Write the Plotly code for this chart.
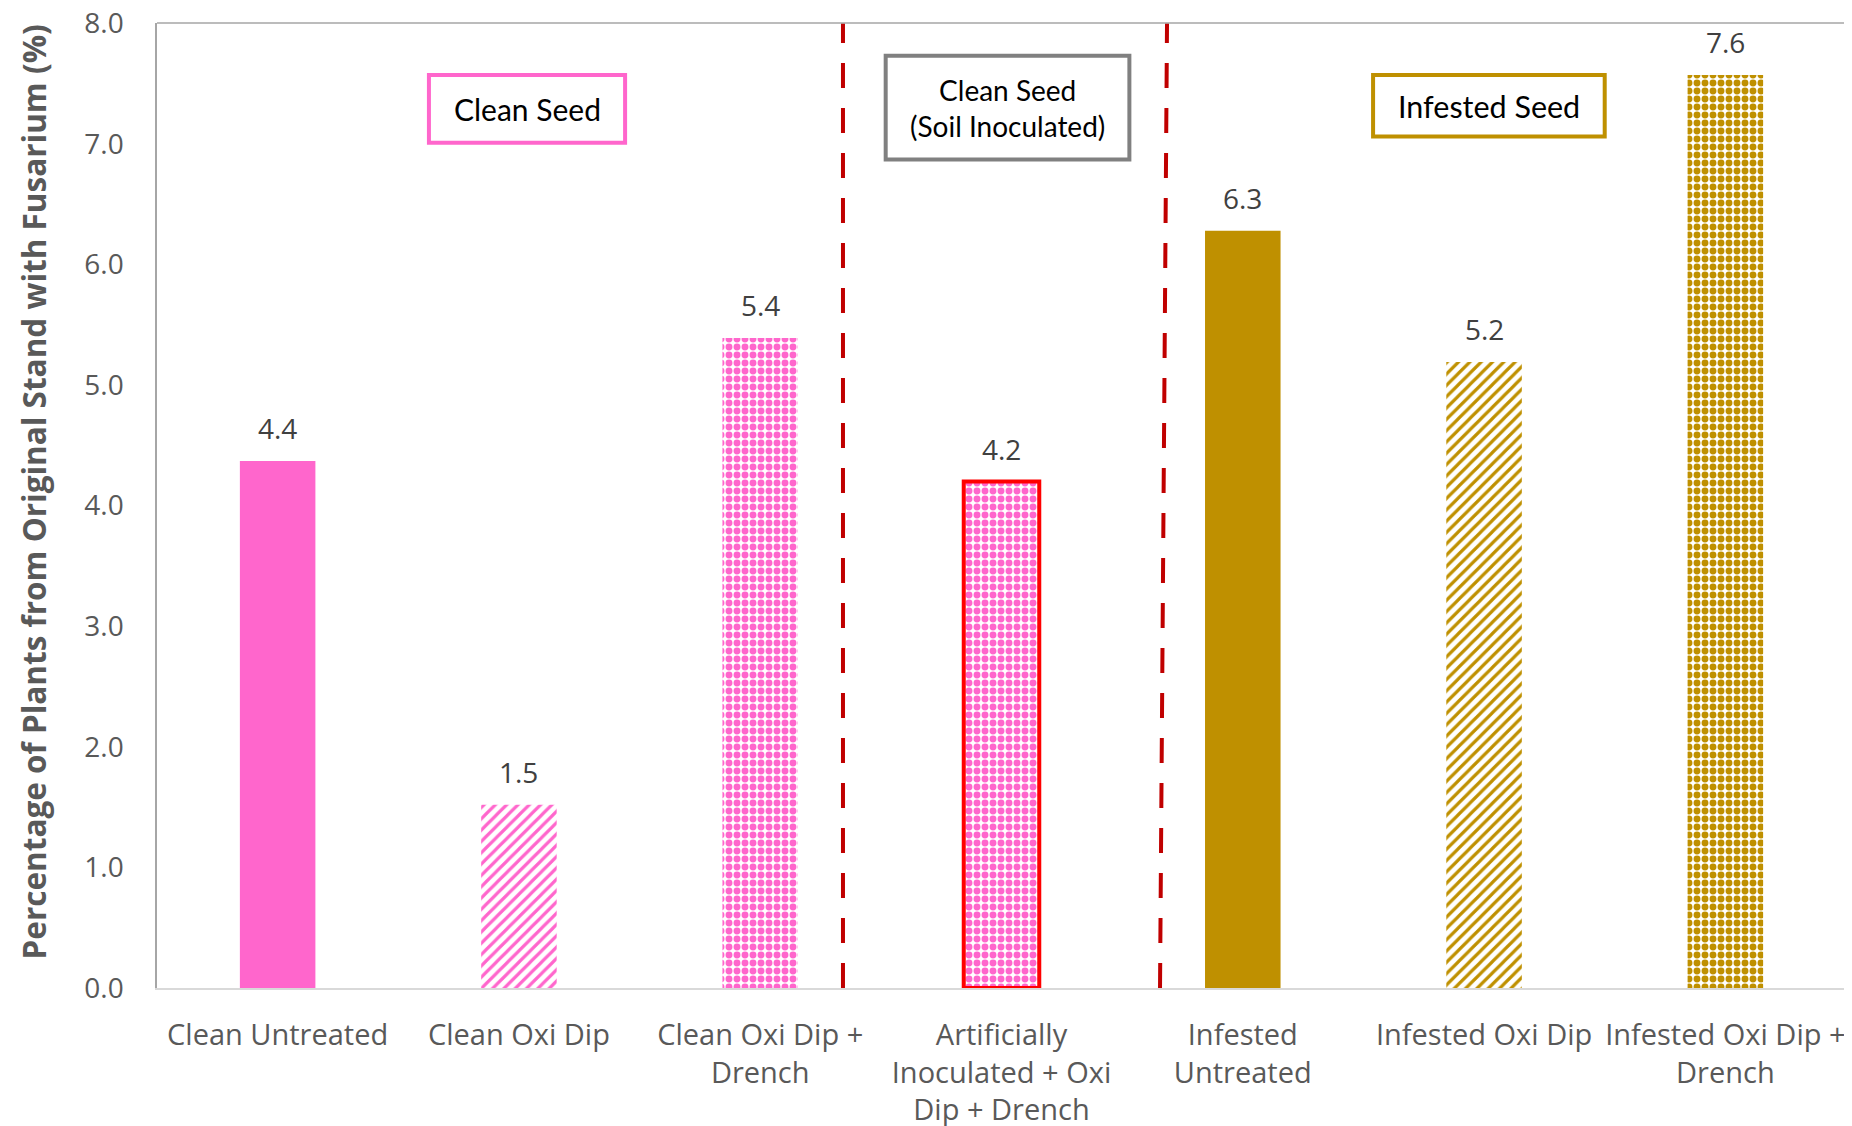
import plotly.graph_objects as go

# ---------------- data ----------------
categories = [
    "Clean Untreated",
    "Clean Oxi Dip",
    "Clean Oxi Dip +<br>Drench",
    "Artificially<br>Inoculated + Oxi<br>Dip + Drench",
    "Infested<br>Untreated",
    "Infested Oxi Dip",
    "Infested Oxi Dip +<br>Drench",
]
values = [4.37, 1.52, 5.39, 4.20, 6.28, 5.19, 7.57]
value_labels = ["4.4", "1.5", "5.4", "4.2", "6.3", "5.2", "7.6"]

group_labels = ["Clean Seed", "Clean Seed<br>(Soil Inoculated)", "Infested Seed"]
y_title = "Percentage of Plants from Original Stand with Fusarium (%)"
y_ticks = [0, 1, 2, 3, 4, 5, 6, 7, 8]

# ---------------- styles ----------------
PINK = "#FF66CC"
GOLD = "#BF9000"
bar_colors = [PINK, PINK, PINK, PINK, GOLD, GOLD, GOLD]
bar_patterns = ["", "/", ".", ".", "", "/", "."]
bar_line_colors = ["rgba(0,0,0,0)"] * 3 + ["#FF0000"] + ["rgba(0,0,0,0)"] * 3
bar_line_widths = [0, 0, 0, 4, 0, 0, 0]
pattern_sizes = [8, 8, 8, 8, 8, 8, 8]
pattern_solidity = [0.3, 0.4, 0.58, 0.58, 0.3, 0.4, 0.58]

fig = go.Figure()
fig.add_trace(go.Bar(
    x=categories,
    y=values,
    marker=dict(
        color=bar_colors,
        line=dict(color=bar_line_colors, width=bar_line_widths),
        pattern=dict(
            shape=bar_patterns,
            fgcolor=bar_colors,
            bgcolor="white",
            fillmode="replace",
            size=pattern_sizes,
            solidity=pattern_solidity,
        ),
    ),
    hoverinfo="skip",
    showlegend=False,
))

annotations = []
# value labels
for i, (v, t) in enumerate(zip(values, value_labels)):
    annotations.append(dict(
        x=i, y=v, xref="x", yref="y", text=t, showarrow=False,
        yanchor="bottom", xanchor="center", yshift=12,
        font=dict(family="Open Sans", size=28, color="#404040"),
    ))

# y-axis title
annotations.append(dict(
    x=0, y=0.5135, xref="paper", yref="paper", text=y_title, showarrow=False,
    textangle=-90, xanchor="center", yanchor="middle", xshift=-124,
    font=dict(family="Open Sans", size=31.5, color="#595959", weight="bold"),
))

shapes = []
# group boxes (x in category units, y in data units)
boxes = [
    dict(x0=0.627, x1=1.44, y0=7.01, y1=7.57, color=PINK, size=30),
    dict(x0=2.52, x1=3.53, y0=6.87, y1=7.73, color="#808080", size=28),
    dict(x0=4.54, x1=5.50, y0=7.06, y1=7.57, color=GOLD, size=30.5),
]
for b, lab in zip(boxes, group_labels):
    shapes.append(dict(
        type="rect", xref="x", yref="y",
        x0=b["x0"], x1=b["x1"], y0=b["y0"], y1=b["y1"],
        line=dict(color=b["color"], width=4), fillcolor="white", layer="above",
    ))
    annotations.append(dict(
        x=(b["x0"] + b["x1"]) / 2, y=(b["y0"] + b["y1"]) / 2,
        xref="x", yref="y", text=lab, showarrow=False,
        xanchor="center", yanchor="middle",
        font=dict(family="Lato", size=b["size"], color="#000000"),
    ))

# dashed dividers
dividers = [(2.343, 2.343), (3.657, 3.686)]
for xb, xt in dividers:
    shapes.append(dict(
        type="line", xref="x", yref="y", x0=xb, x1=xt, y0=0, y1=8,
        line=dict(color="#C00000", width=4, dash="25px,20px"), layer="above",
    ))

# top border of plot area
shapes.append(dict(
    type="line", xref="paper", yref="paper", x0=0, x1=1, y0=1, y1=1,
    line=dict(color="#A6A6A6", width=1.5),
))

fig.update_layout(
    width=1844, height=1120,
    margin=dict(l=149, r=6, t=15, b=140),
    paper_bgcolor="white", plot_bgcolor="white",
    bargap=0.687,
    annotations=annotations,
    shapes=shapes,
    font=dict(family="Open Sans", color="#595959"),
)
fig.update_xaxes(
    type="category", range=[-0.5, 6.5], automargin=False,
    showline=True, linecolor="#D9D9D9", linewidth=2,
    ticks="", ticklabelstandoff=20, ticklabeloverflow="allow",
    tickfont=dict(family="Open Sans", size=29, color="#595959"),
    showgrid=False, zeroline=False,
)
fig.update_yaxes(
    range=[0, 8.002], tickvals=y_ticks, tickformat=".1f", automargin=False,
    showline=True, linecolor="#A6A6A6", linewidth=1.5, mirror=True,
    ticks="", ticklabelstandoff=26, ticklabeloverflow="allow",
    tickfont=dict(family="Open Sans", size=28, color="#595959"),
    showgrid=False, zeroline=False,
)

fig.write_html("out.html")
